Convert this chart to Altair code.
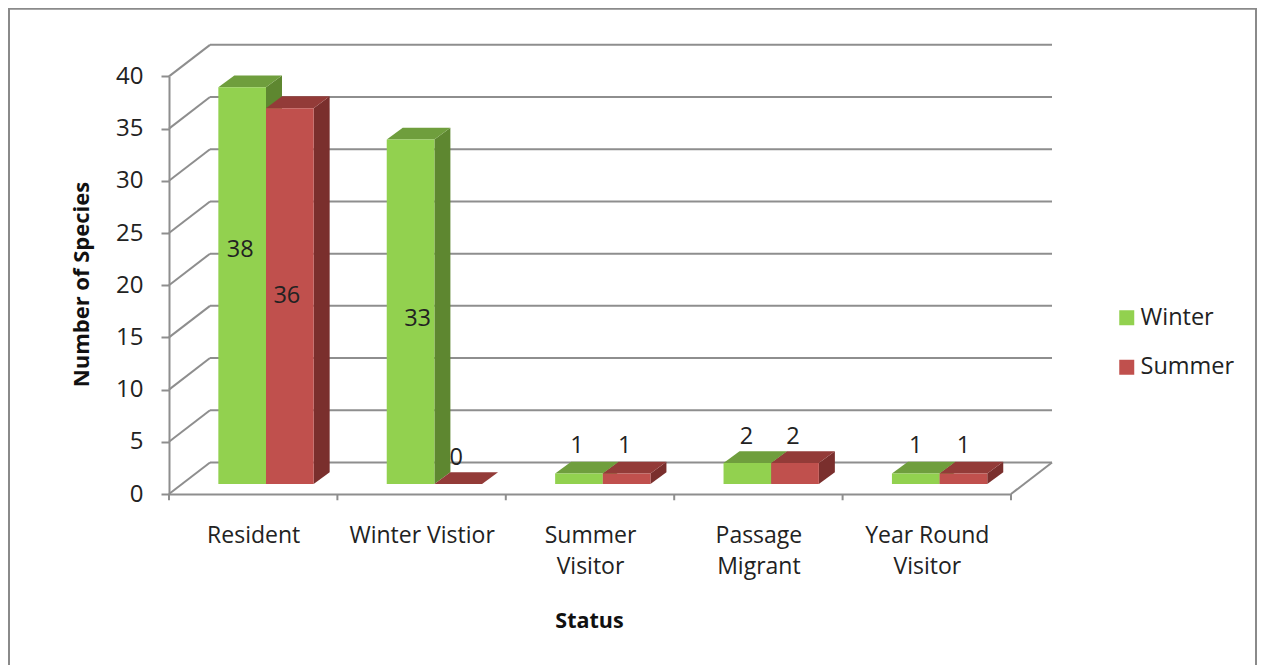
import json
import altair as alt
import pandas as pd

# ---- values ----
categories = ["Resident", "Winter Vistior", "Summer Visitor", "Passage Migrant", "Year Round Visitor"]
category_lines = [["Resident"], ["Winter Vistior"], ["Summer", "Visitor"], ["Passage", "Migrant"], ["Year Round", "Visitor"]]
winter = [38, 33, 1, 2, 1]
summer = [36, 0, 1, 2, 1]
y_ticks = [0, 5, 10, 15, 20, 25, 30, 35, 40]
# heights (axis units) at which the data labels sit
winter_label_y = [23.4, 16.8, 4.55, 5.5, 4.55]
summer_label_y = [19.0, 3.45, 4.55, 5.5, 4.55]
winter_label_dx = [-2, 7, -2, -1, 0]
summer_label_dx = [-3, -2, -2, -2, 0]

# ---- style / geometry constants ----
W, H = 1249, 657
FONT = "Open Sans"
TXT = "#222222"
GRID = "#8e8e8e"
FRAME = "#8a8a8a"
FILL = {"Winter": ("#92D14F", "#6F9E3D", "#5E8730"), "Summer": ("#C0504D", "#933B38", "#7A2F2D")}
WALL_DX, WALL_DY = 0.2435, 3.02      # depth of the chart floor, in axis units
BAR_DX, BAR_DY = 0.095, 1.13         # depth of a bar
BASE = 0.96                          # bars stand this far up the floor
BAR_L, BAR_W = 0.293, 0.283          # first bar's left edge and bar width in a category

x_scale = alt.Scale(domain=[0, 5], range=[161, 1003], nice=False, zero=False)
y_scale = alt.Scale(domain=[0, 40], range=[486, 68.4], nice=False, zero=False)

front, side, top, labels = [], [], [], []
for s, (name, vals, ly, ldx) in enumerate([("Winter", winter, winter_label_y, winter_label_dx),
                                           ("Summer", summer, summer_label_y, summer_label_dx)]):
    for i, v in enumerate(vals):
        x0 = i + BAR_L + s * BAR_W
        x1 = x0 + BAR_W
        y1 = BASE + v
        if v > 0:
            front.append(dict(series=name, x=x0, x2=x1, y=BASE, y2=y1))
        key = f"{name}{i}"
        side += [dict(series=name, key=key, x=x1, y=BASE, y2=y1),
                 dict(series=name, key=key, x=x1 + BAR_DX, y=BASE + BAR_DY, y2=y1 + BAR_DY)]
        top += [dict(series=name, key=key, x=x0, x2=x1, y=y1),
                dict(series=name, key=key, x=x0 + BAR_DX, x2=x1 + BAR_DX, y=y1 + BAR_DY)]
        labels.append(dict(x=x0 + BAR_W / 2, y=ly[i], text=str(v), dx=ldx[i]))

X = alt.X("x:Q", scale=x_scale, title=None,
          axis=alt.Axis(values=[i + 0.5 for i in range(5)], tickSize=0, domainColor=GRID, domainWidth=2,
                        grid=False, labelFont=FONT, labelFontSize=23, labelColor=TXT, labelPadding=30,
                        labelLineHeight=31, labelBaseline="top",
                        labelExpr=json.dumps(category_lines) + "[floor(datum.value)]",
                        offset=-(H - 486), title="Status", titleFont=FONT, titleFontSize=21.5,
                        titleFontWeight="bold", titleColor="#111111", titleX=581, titleY=127,
                        titleBaseline="middle", titleAlign="center", labelOverlap=False, labelFlush=False))
Y = alt.Y("y:Q", scale=y_scale, title=None,
          axis=alt.Axis(values=y_ticks, tickSize=8, tickColor=GRID, tickWidth=2, domainColor=GRID, domainWidth=2,
                        grid=False, labelFont=FONT, labelFontSize=24, labelColor=TXT, labelPadding=18,
                        offset=-161, title="Number of Species", titleFont=FONT, titleFontSize=22,
                        titleFontWeight="bold", titleColor="#111111", titleX=-88, titleY=276,
                        titleBaseline="middle", titleAlign="center", titleAngle=270))
X0 = alt.X("x:Q", scale=x_scale)
Y0 = alt.Y("y:Q", scale=y_scale)

rule_back = pd.DataFrame([dict(x=WALL_DX, x2=5 + WALL_DX, y=t + WALL_DY, y2=t + WALL_DY) for t in y_ticks])
rule_diag = pd.DataFrame([dict(x=0, x2=WALL_DX, y=t, y2=t + WALL_DY) for t in y_ticks]
                         + [dict(x=5, x2=5 + WALL_DX, y=0, y2=WALL_DY)])
xt = pd.DataFrame([dict(x=i, x2=i, y=0, y2=-0.6) for i in range(6)])


def rules(df):
    return alt.Chart(df).mark_rule(color=GRID, strokeWidth=2).encode(X0, Y0, x2="x2:Q", y2="y2:Q")


layers = [
    # carries the real axes
    alt.Chart(pd.DataFrame([dict(x=0, y=0)])).mark_point(opacity=0).encode(X, Y),
    rules(rule_back), rules(rule_diag), rules(xt),
]
for name in ["Winter", "Summer"]:
    _, t_col, s_col = FILL[name]
    layers.append(alt.Chart(pd.DataFrame([r for r in side if r["series"] == name])).mark_area(color=s_col, opacity=1)
                  .encode(X0, Y0, y2="y2:Q", detail="key:N"))
    layers.append(alt.Chart(pd.DataFrame([r for r in top if r["series"] == name])).mark_area(color=t_col, opacity=1, orient="horizontal")
                  .encode(X0, Y0, x2="x2:Q", detail="key:N"))

layers.append(alt.Chart(pd.DataFrame(front)).mark_bar(opacity=1).encode(
    X0, Y0, x2="x2:Q", y2="y2:Q",
    color=alt.Color("series:N",
                    scale=alt.Scale(domain=["Winter", "Summer"], range=[FILL["Winter"][0], FILL["Summer"][0]]),
                    legend=alt.Legend(title=None, orient="none", legendX=1107, legendY=298, symbolType="square",
                                      symbolSize=225, symbolStrokeWidth=0, labelFont=FONT, labelFontSize=23.5,
                                      labelColor=TXT, rowPadding=24.5, labelOffset=2, padding=0))))

for dx in sorted({l["dx"] for l in labels}):
    layers.append(alt.Chart(pd.DataFrame([l for l in labels if l["dx"] == dx])).mark_text(
        font=FONT, fontSize=23.5, color=TXT, dx=dx, baseline="middle", align="center").encode(X0, Y0, text="text:N"))

stub = pd.DataFrame([{"a": 0}])
frame = [
    alt.Chart(stub).mark_rule(color=FRAME, strokeWidth=2).encode(x=alt.value(1), y=alt.value(0), y2=alt.value(H)),
    alt.Chart(stub).mark_rule(color=FRAME, strokeWidth=2).encode(x=alt.value(W - 1), y=alt.value(0), y2=alt.value(H)),
    alt.Chart(stub).mark_rule(color=FRAME, strokeWidth=2).encode(x=alt.value(0), x2=alt.value(W), y=alt.value(0.75)),
]

chart = alt.layer(*layers, *frame).properties(
    width=W, height=H, padding=0, autosize=alt.AutoSizeParams(type="none"), background="white"
).configure_view(stroke=None)

chart.save("out.html", embed_options={"renderer": "svg", "actions": False})
